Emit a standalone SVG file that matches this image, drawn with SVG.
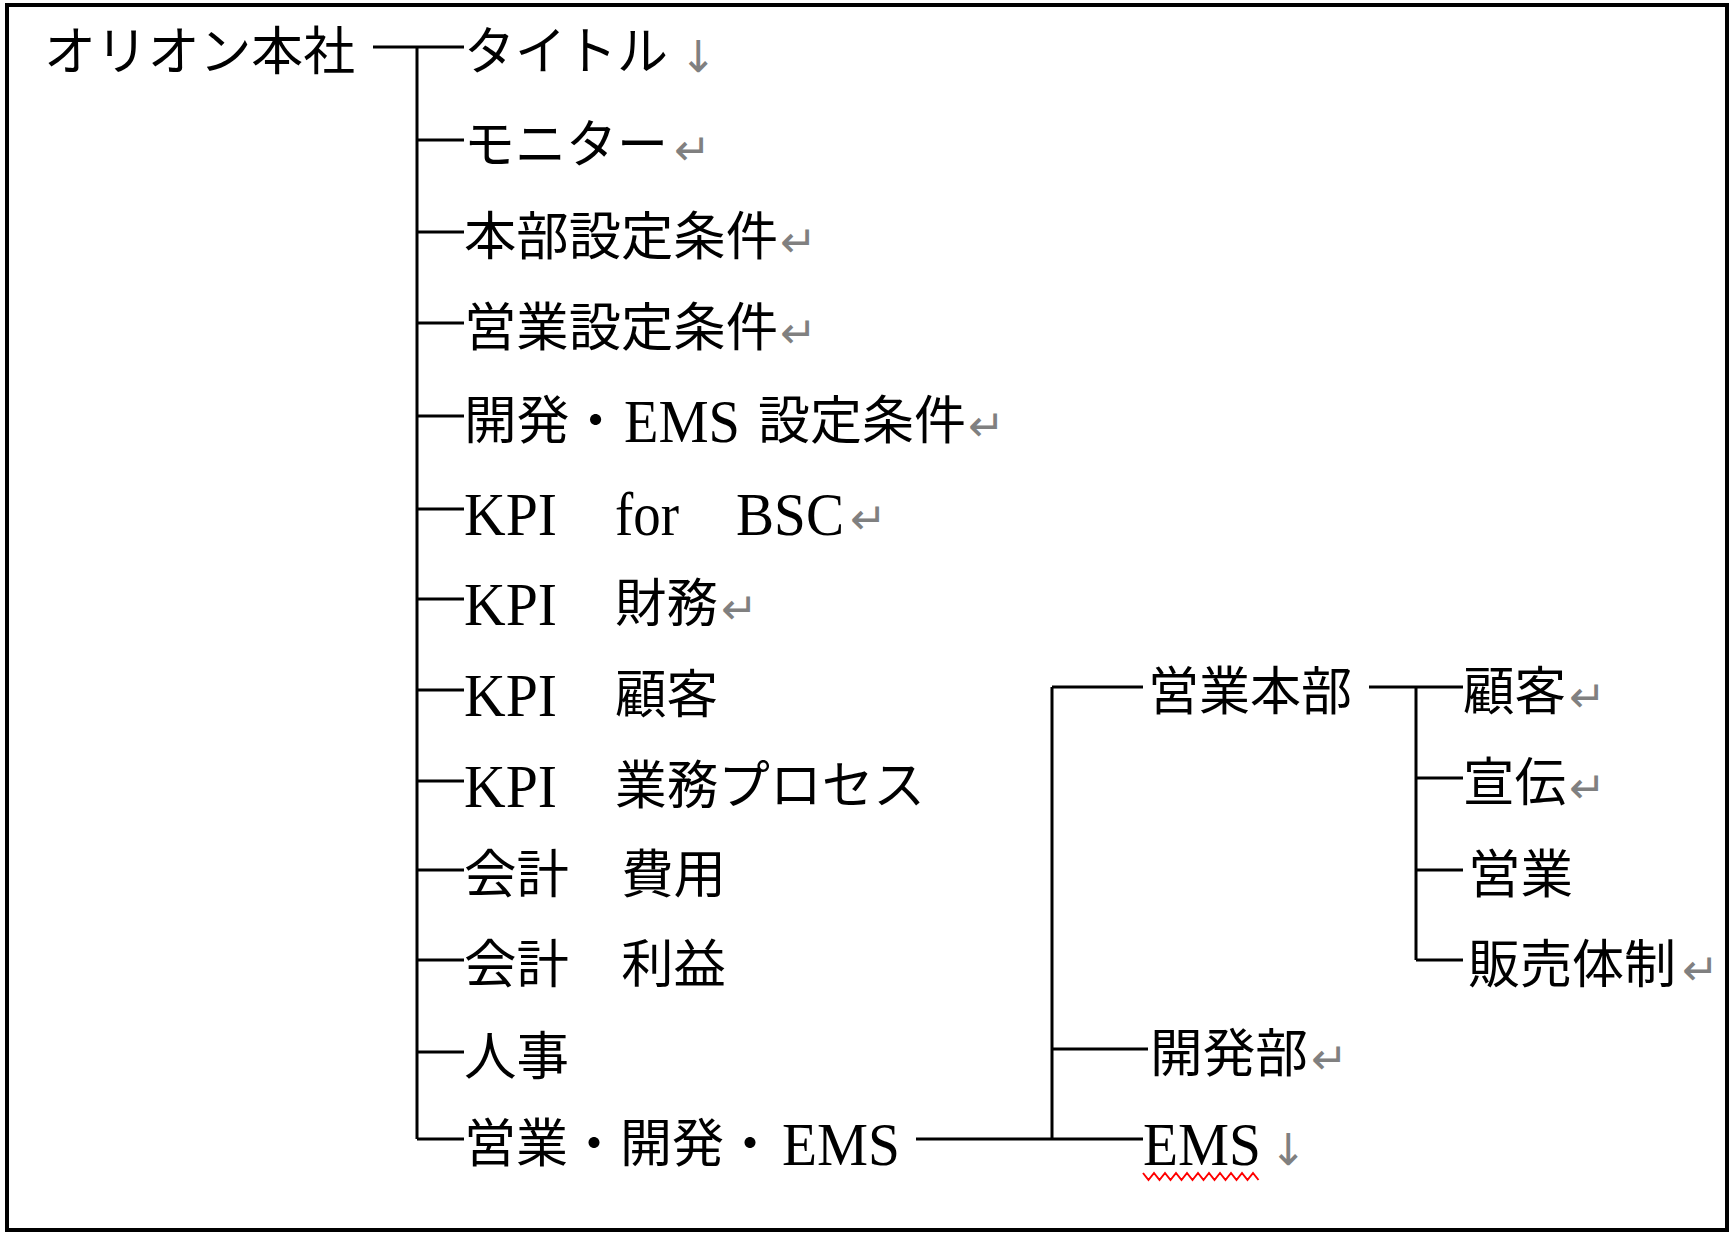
<svg xmlns="http://www.w3.org/2000/svg" width="1731" height="1234" viewBox="0 0 1731 1234">
<style>
.t{font-family:"Liberation Serif","Noto Sans CJK JP",serif;font-size:52px;fill:#000;dominant-baseline:central}
.l{font-family:"Liberation Serif",serif;font-size:62px;fill:#000;dominant-baseline:central}
.m{font-family:"DejaVu Sans",sans-serif;font-size:44px;fill:#808080;dominant-baseline:central}
.c{stroke:#000;stroke-width:3;fill:none}
</style>
<rect x="7" y="5" width="1720" height="1225" fill="#fff" stroke="#000" stroke-width="4"/>
<g id="connectors" class="c">
<path d="M373 47H464M417 47V1139"/>
<path d="M417 140H464M417 232H464M417 323H464M417 416H464M417 509H464M417 599H464M417 690H464M417 781H464M417 870H464M417 960H464M417 1052H464M417 1139H464"/>
<path d="M916 1139H1143M1052 687V1139M1052 687H1143M1052 1049H1148"/>
<path d="M1369 687H1463M1416 687V960M1416 778H1463M1416 870H1463M1416 960H1463"/>
</g>
<g id="root"><text class="t" x="44" y="52" textLength="311" lengthAdjust="spacingAndGlyphs">オリオン本社</text></g>
<g id="n1"><text class="t" x="464" y="52" textLength="204" lengthAdjust="spacingAndGlyphs">タイトル</text><text class="m" x="680" y="56">↓</text></g>
<g id="n2"><text class="t" x="464" y="145" textLength="204" lengthAdjust="spacingAndGlyphs">モニター</text><text class="m" x="674" y="149">↵</text></g>
<g id="n3"><text class="t" x="464" y="237" textLength="314" lengthAdjust="spacingAndGlyphs">本部設定条件</text><text class="m" x="780" y="241">↵</text></g>
<g id="n4"><text class="t" x="464" y="328" textLength="314" lengthAdjust="spacingAndGlyphs">営業設定条件</text><text class="m" x="780" y="332">↵</text></g>
<g id="n5"><text class="t" x="464" y="421" textLength="158" lengthAdjust="spacingAndGlyphs">開発・</text><text class="l" x="624" y="421" textLength="116" lengthAdjust="spacingAndGlyphs">EMS</text><text class="t" x="758" y="421" textLength="208" lengthAdjust="spacingAndGlyphs">設定条件</text><text class="m" x="968" y="425">↵</text></g>
<g id="n6"><text class="l" x="464" y="514" textLength="93" lengthAdjust="spacingAndGlyphs">KPI</text><text class="l" x="615" y="514" textLength="64" lengthAdjust="spacingAndGlyphs">for</text><text class="l" x="736" y="514" textLength="108" lengthAdjust="spacingAndGlyphs">BSC</text><text class="m" x="850" y="518">↵</text></g>
<g id="n7"><text class="l" x="464" y="604" textLength="93" lengthAdjust="spacingAndGlyphs">KPI</text><text class="t" x="615" y="604" textLength="103" lengthAdjust="spacingAndGlyphs">財務</text><text class="m" x="721" y="608">↵</text></g>
<g id="n8"><text class="l" x="464" y="695" textLength="93" lengthAdjust="spacingAndGlyphs">KPI</text><text class="t" x="615" y="695" textLength="103" lengthAdjust="spacingAndGlyphs">顧客</text></g>
<g id="n9"><text class="l" x="464" y="786" textLength="93" lengthAdjust="spacingAndGlyphs">KPI</text><text class="t" x="615" y="786" textLength="310" lengthAdjust="spacingAndGlyphs">業務プロセス</text></g>
<g id="n10"><text class="t" x="464" y="875" textLength="262" lengthAdjust="spacingAndGlyphs">会計　費用</text></g>
<g id="n11"><text class="t" x="464" y="965" textLength="262" lengthAdjust="spacingAndGlyphs">会計　利益</text></g>
<g id="n12"><text class="t" x="464" y="1057" textLength="105" lengthAdjust="spacingAndGlyphs">人事</text></g>
<g id="n13"><text class="t" x="464" y="1144" textLength="312" lengthAdjust="spacingAndGlyphs">営業・開発・</text><text class="l" x="782" y="1144" textLength="118" lengthAdjust="spacingAndGlyphs">EMS</text></g>
<g id="n14"><text class="t" x="1148" y="692" textLength="204" lengthAdjust="spacingAndGlyphs">営業本部</text></g>
<g id="n15"><text class="t" x="1150" y="1054" textLength="158" lengthAdjust="spacingAndGlyphs">開発部</text><text class="m" x="1311" y="1058">↵</text></g>
<g id="n16"><text class="l" x="1143" y="1144" textLength="118" lengthAdjust="spacingAndGlyphs">EMS</text><text class="m" x="1270" y="1149">↓</text>
<path d="M1143 1173l5.5 7l5.5-7l5.5 7l5.5-7l5.5 7l5.5-7l5.5 7l5.5-7l5.5 7l5.5-7l5.5 7l5.5-7l5.5 7l5.5-7l5.5 7l5.5-7l5.5 7l5.5-7l5.5 7l5.5-7l5.5 7" fill="none" stroke="#f00" stroke-width="2"/></g>
<g id="n17"><text class="t" x="1463" y="692" textLength="103" lengthAdjust="spacingAndGlyphs">顧客</text><text class="m" x="1569" y="696">↵</text></g>
<g id="n18"><text class="t" x="1463" y="783" textLength="103" lengthAdjust="spacingAndGlyphs">宣伝</text><text class="m" x="1569" y="787">↵</text></g>
<g id="n19"><text class="t" x="1468" y="875" textLength="105" lengthAdjust="spacingAndGlyphs">営業</text></g>
<g id="n20"><text class="t" x="1468" y="965" textLength="208" lengthAdjust="spacingAndGlyphs">販売体制</text><text class="m" x="1682" y="969">↵</text></g>
</svg>
